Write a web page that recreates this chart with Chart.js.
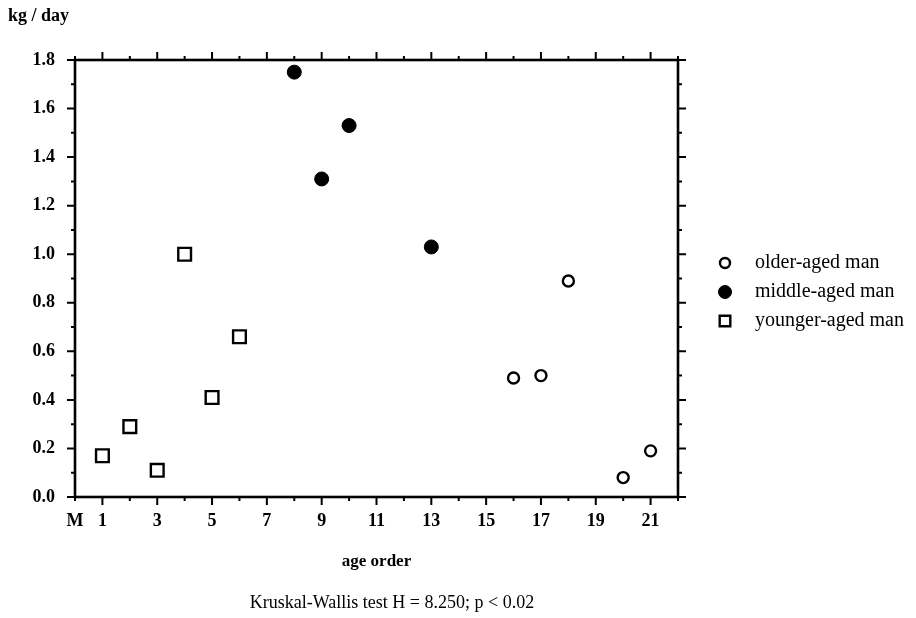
<!DOCTYPE html>
<html lang="en">
<head>
<meta charset="UTF-8" />
<title>kg / day by age order</title>
<script src="https://cdn.jsdelivr.net/npm/chart.js"></script>
<style>
  html, body { margin: 0; padding: 0; background: #fff; }
  .chart-box { width: 916px; height: 618px; position: relative; }
</style>
</head>
<body>
<div class="chart-box"><canvas id="ageChart"></canvas></div>
<script>
  // age order (x) and kg/day (y), one pair of arrays per group
  const olderOrder = [16, 17, 18, 20, 21];
  const olderKg = [0.49, 0.50, 0.89, 0.08, 0.19];
  const middleOrder = [8, 9, 10, 13];
  const middleKg = [1.75, 1.31, 1.53, 1.03];
  const youngerOrder = [1, 2, 3, 4, 5, 6];
  const youngerKg = [0.17, 0.29, 0.11, 1.00, 0.41, 0.66];

  const groupNames = ['older-aged man', 'middle-aged man', 'younger-aged man'];
  // label for each x value 0..22 (evens left blank)
  const xTickText = ['M', '1', '', '3', '', '5', '', '7', '', '9', '', '11', '',
                     '13', '', '15', '', '17', '', '19', '', '21', ''];

  const serif = '"Liberation Serif", "Times New Roman", serif';
  Chart.defaults.font.family = serif;
  Chart.defaults.color = '#000';

  const toPoints = (xs, ys) => xs.map((v, i) => ({ x: v, y: ys[i] }));

  // frame, outward tick marks (major + minor) and the legend on the right
  const frameTicks = {
    id: 'frameTicks',
    afterDraw(chart) {
      const { ctx, chartArea: a, scales: { x, y } } = chart;
      ctx.save();
      ctx.strokeStyle = '#000';
      ctx.lineWidth = 2.6;
      ctx.strokeRect(a.left, a.top, a.right - a.left, a.bottom - a.top);

      ctx.lineWidth = 2;
      ctx.beginPath();
      for (let v = 0; v <= 22; v++) {
        const px = x.getPixelForValue(v);
        const len = v % 2 ? 8 : 4;
        ctx.moveTo(px, a.bottom); ctx.lineTo(px, a.bottom + len);
        ctx.moveTo(px, a.top); ctx.lineTo(px, a.top - len);
      }
      for (let i = 0; i <= 18; i++) {
        const py = y.getPixelForValue(i / 10);
        const len = i % 2 ? 4 : 8;
        ctx.moveTo(a.left, py); ctx.lineTo(a.left - len, py);
        ctx.moveTo(a.right, py); ctx.lineTo(a.right + len, py);
      }
      ctx.stroke();

      // legend
      const rows = [263, 292, 321];
      const legendRadius = [5, 6.5, 7.5];
      ctx.font = '20px ' + serif;
      ctx.textBaseline = 'middle';
      ctx.textAlign = 'left';
      chart.data.datasets.forEach((ds, i) => {
        ctx.fillStyle = ds.backgroundColor;
        ctx.strokeStyle = ds.borderColor;
        ctx.lineWidth = ds.borderWidth;
        Chart.helpers.drawPoint(ctx, {
          pointStyle: ds.pointStyle, radius: legendRadius[i],
          borderWidth: ds.borderWidth, rotation: 0
        }, 725, rows[i]);
        ctx.fillStyle = '#000';
        ctx.fillText(groupNames[i], 755, rows[i]);
      });
      ctx.restore();
    }
  };

  new Chart(document.getElementById('ageChart'), {
    type: 'scatter',
    data: {
      datasets: [
        {
          label: groupNames[0],
          data: toPoints(olderOrder, olderKg),
          pointStyle: 'circle', pointRadius: 5.5, pointHoverRadius: 5.5,
          backgroundColor: '#fff', borderColor: '#000', borderWidth: 2.4
        },
        {
          label: groupNames[1],
          data: toPoints(middleOrder, middleKg),
          pointStyle: 'circle', pointRadius: 7, pointHoverRadius: 7,
          backgroundColor: '#000', borderColor: '#000', borderWidth: 1
        },
        {
          label: groupNames[2],
          data: toPoints(youngerOrder, youngerKg),
          pointStyle: 'rect', pointRadius: 9, pointHoverRadius: 9,
          backgroundColor: '#fff', borderColor: '#000', borderWidth: 2.4
        }
      ]
    },
    options: {
      responsive: true,
      maintainAspectRatio: false,
      animation: false,
      events: [],
      layout: { padding: { left: 8, right: 140, top: 0, bottom: 0 } },
      plugins: {
        legend: { display: false },
        tooltip: { enabled: false },
        title: {
          display: true,
          text: 'kg / day',
          align: 'start',
          font: { size: 18, weight: 'bold' },
          padding: { top: 6, bottom: 32.4 }
        },
        subtitle: {
          display: true,
          text: 'Kruskal-Wallis test H = 8.250; p < 0.02',
          position: 'bottom',
          font: { size: 18 },
          padding: { top: 12.2, bottom: 4.2 }
        }
      },
      scales: {
        x: {
          type: 'linear',
          min: 0, max: 22,
          grid: { display: false, drawTicks: false },
          border: { display: false },
          ticks: {
            stepSize: 1, autoSkip: false, maxRotation: 0, padding: 14,
            font: { size: 18, weight: 'bold' },
            callback: v => xTickText[v] ?? ''
          },
          title: {
            display: true, text: 'age order',
            font: { size: 17, weight: 'bold' },
            padding: { top: 0, bottom: 8 }
          },
          afterFit: s => { s.height = 83; }
        },
        y: {
          min: 0, max: 1.8,
          grid: { display: false, drawTicks: false },
          border: { display: false },
          ticks: {
            stepSize: 0.2, autoSkip: false, padding: 20,
            font: { size: 18, weight: 'bold' },
            callback: v => v.toFixed(1)
          },
          afterFit: s => { s.width = 67; }
        },
        yRight: {
          position: 'right',
          min: 0, max: 1.8,
          grid: { display: false, drawTicks: false },
          border: { display: false },
          ticks: { display: false },
          afterFit: s => { s.width = 98; }
        }
      }
    },
    plugins: [frameTicks]
  });
</script>
</body>
</html>
